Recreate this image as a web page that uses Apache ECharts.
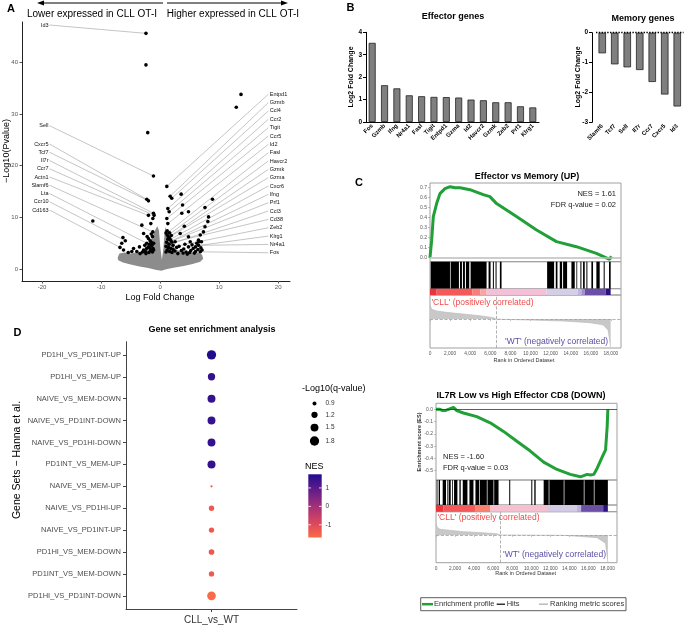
<!DOCTYPE html>
<html><head><meta charset="utf-8">
<script src="https://cdn.jsdelivr.net/npm/echarts@6/dist/echarts.min.js"></script>
<style>html,body{margin:0;padding:0;background:#fff}#c{width:685px;height:627px}</style>
</head><body><div id="c"></div>
<script>
// ================= DATA =================
// Panel A – volcano
const cloudX = [-7.2,-6.9,-6.0,-5.0,-4.0,-3.0,-2.4,-2.0,-1.6,-1.2,-0.8,-0.5,-0.2,0.05,0.3,0.55,0.75,0.9,1.1,1.5,2.0,2.6,3.5,4.5,5.5,6.5,7.1,7.3,6.8,5.5,4.0,2.5,1.2,0.2,-0.8,-2.0,-3.5,-5.0,-6.3,-7.1];
const cloudY = [2.2,3.0,3.2,3.0,3.2,3.4,3.8,4.6,5.6,6.6,7.6,8.3,7.5,4.0,1.8,4.0,7.0,8.2,7.2,6.0,4.8,3.8,3.4,3.1,3.2,3.2,2.8,2.0,1.4,1.0,0.6,0.3,0.0,-0.3,-0.1,0.2,0.5,0.9,1.3,1.7];
const sigLeft = [[-2.4,45.6],[-2.4,39.5],[-2.1,26.4],[-1.13,18.0],[-11.4,9.3],[-2.26,13.5],[-1.98,13.2],[-1.13,10.8],[-1.02,10.4],[-1.98,10.4],[-1.24,9.8],[-1.58,8.8],[-3.1,8.5],[-1.24,7.2],[-2.8,6.9],[-6.3,6.1],[-1.98,5.9],[-1.7,5.5],[-5.9,5.5],[-6.5,5.0],[-2.26,5.0],[-1.4,4.6],[-3.5,4.3],[-6.8,4.2],[-6.2,3.7],[-5.4,3.2],[-4.5,4.0],[-2.8,3.7],[-3.95,3.4],[-3.4,3.0],[-1.3,6.3],[-1.5,5.2],[-1.8,4.8],[-2.0,4.3],[-2.3,4.0],[-1.2,4.0],[-1.6,3.6],[-2.5,3.4],[-1.9,3.2],[-1.3,3.3],[-2.6,4.6],[-1.1,5.0],[-3.0,3.3],[-4.8,3.4],[-2.2,6.3],[-1.5,6.8],[-2.4,3.0],[-1.1,3.7],[-1.7,4.1]];
const sigRight = [[13.7,33.8],[12.9,31.3],[1.13,16.0],[1.7,14.1],[1.97,13.7],[3.56,14.5],[8.87,13.5],[3.8,12.4],[1.3,11.7],[1.53,11.1],[4.8,11.1],[3.67,10.8],[7.6,11.9],[8.2,10.1],[1.13,9.8],[8.08,9.2],[1.3,8.8],[7.6,8.2],[4.1,8.3],[7.34,7.2],[3.4,6.9],[4.8,6.25],[6.8,6.6],[6.5,5.6],[5.1,5.3],[2.54,5.3],[1.0,7.0],[1.2,6.6],[1.4,6.3],[1.6,6.0],[1.3,5.8],[1.8,5.6],[2.0,5.2],[1.1,5.2],[1.5,4.8],[2.2,4.6],[1.0,4.4],[1.4,4.2],[1.8,4.0],[2.2,3.8],[1.2,3.7],[1.6,3.4],[2.5,3.5],[1.0,3.3],[2.0,3.2],[1.2,7.4],[1.6,7.0],[1.9,6.5],[3.2,4.4],[3.6,3.6],[4.0,3.9],[4.4,3.3],[4.8,4.3],[5.2,3.6],[5.6,4.0],[6.0,3.4],[6.4,3.8],[6.8,3.35],[6.5,4.6],[6.2,5.0],[5.8,3.1],[4.6,2.9],[3.9,3.1],[6.9,4.1],[5.0,3.2],[3.0,3.0],[7.1,3.7],[5.4,4.7],[6.6,5.3],[7.0,5.3],[4.2,4.8],[2.8,4.2],[6.0,4.3]];
const leftGenes = ['Id3','Sell','Cxcr5','Tcf7','Il7r','Ccr7','Actn1','Slamf6','Lta','Ccr10','Cd163'];
const leftTargets = [[-2.4,45.6],[-1.13,18.0],[-2.26,13.5],[-1.98,13.2],[-1.13,10.8],[-1.02,10.4],[-1.98,10.4],[-1.24,7.2],[-2.26,5.0],[-5.9,5.5],[-6.8,4.2]];
const rightGenes = ['Entpd1','Gzmb','Ccl4','Ccr2','Tigit','Ccr5','Id2','Fasl','Havcr2','Gzmk','Gzma','Cxcr6','Ifng','Prf1','Ccl3','Cd38','Zeb2','Klrg1','Nr4a1','Fos'];
const rightTargets = [[1.13,16.0],[1.7,14.1],[1.97,13.7],[1.3,11.7],[1.53,11.1],[1.13,9.8],[1.3,8.8],[1.2,7.0],[1.4,6.6],[1.6,6.3],[1.3,6.0],[1.8,5.8],[2.0,5.5],[1.5,5.2],[2.2,5.0],[2.54,5.3],[3.4,4.6],[4.8,4.3],[6.5,4.6],[6.8,3.35]];
const volcanoXTicks = [-20,-10,0,10,20];
const volcanoYTicks = [0,10,20,30,40];

// Panel B – bar charts
const effectorGenes = ['Fos','Gzmb','Ifng','Nr4a1','Fasl','Tigit','Entpd1','Gzma','Id2','Havcr2','Gzmk','Zeb2','Prf1','Klrg1'];
const effectorLFC = [3.53,1.64,1.50,1.19,1.15,1.12,1.11,1.09,1.00,0.97,0.88,0.88,0.70,0.65];
const memoryGenes = ['Slamf6','Tcf7','Sell','Il7r','Ccr7','Cxcr5','Id3'];
const memoryLFC = [-0.69,-1.06,-1.16,-1.25,-1.65,-2.07,-2.47];

// Panel C – GSEA (UP)
const upRank = [0,165,330,660,990,1490,2000,2500,3000,3970,5300,5960,6620,8600,10600,12580,14560,16550,17870,18040];
const upES = [0,0.17,0.41,0.54,0.64,0.69,0.71,0.70,0.70,0.68,0.63,0.61,0.54,0.41,0.275,0.158,0.107,0.04,-0.02,0.01];
const upHitStart = [66,2052,2980,3277,3575,4038,5826,6256,6521,6951,11650,12512,12909,13240,14068,14564,14961,15226,15557,16054,16550,17278,17808];
const upHitEnd   = [1986,2880,3178,3475,3906,5627,6024,6355,6620,7117,12346,12678,13141,13637,14399,14630,15061,15392,15656,16219,16881,17378,17973];
const upBandStart = [0,660,4200,5000,5630,11590,14700,15060,15390,17480];
const upBandEnd   = [660,4200,5000,5630,11590,14700,15060,15390,17480,17970];
const upMetricRank = [0,165,660,1655,3310,4965,6290,6620,9930,13240,15890,17210,17710,17870,17970];
const upMetricVal  = [0.585,0.41,0.34,0.28,0.21,0.14,0.06,0,-0.04,-0.08,-0.15,-0.24,-0.45,-0.87,-1.17];
const upZeroCross = 6620;
// Panel C – GSEA (DOWN)
const downRank = [0,420,700,950,1300,1830,2180,2880,4280,5690,7090,8490,9900,11300,12700,14100,15160,15870,16210,16570,16920,17440,17800,17970,18040];
const downES = [0,0.0,-0.01,-0.01,0.0,0.015,-0.01,-0.03,-0.06,-0.11,-0.18,-0.26,-0.34,-0.43,-0.49,-0.53,-0.55,-0.53,-0.535,-0.53,-0.48,-0.39,-0.33,-0.14,0];
const downHitStart = [70,281,702,1193,1334,1685,1895,2457,2808,3510,4142,4598,5405,6107,7687,10004,10319,11302,11899,13478,15584,16637];
const downHitEnd   = [140,421,1053,1260,1544,1755,2246,2597,3299,3931,4528,5335,6037,6564,7792,10109,10460,11829,13408,15514,16567,18041];
const downBandStart = [0,770,4100,5690,11650,14810,15230,17550];
const downBandEnd   = [770,4100,5690,11650,14810,15230,17550,18040];
const downMetricRank = [0,140,421,2878,4633,6388,6740,9898,13408,16918,17796,17971,18041];
const downMetricVal  = [0.47,0.33,0.24,0.14,0.10,0.05,0,-0.01,-0.02,-0.12,-0.36,-0.94,-1.2];
const downZeroCross = 6740;
const rankTicks = [0,2000,4000,6000,8000,10000,12000,14000,16000,18000];
const upESTicks = [0,0.1,0.2,0.3,0.4,0.5,0.6,0.7];
const downESTicks = [0,-0.1,-0.2,-0.3,-0.4,-0.5];

// Panel D – dot plot
const geneSets = ['PD1HI_VS_PD1INT-UP','PD1HI_VS_MEM-UP','NAIVE_VS_MEM-DOWN','NAIVE_VS_PD1INT-DOWN','NAIVE_VS_PD1HI-DOWN','PD1INT_VS_MEM-UP','NAIVE_VS_MEM-UP','NAIVE_VS_PD1HI-UP','NAIVE_VS_PD1INT-UP','PD1HI_VS_MEM-DOWN','PD1INT_VS_MEM-DOWN','PD1HI_VS_PD1INT-DOWN'];
const nesValues = [1.74,1.5,1.5,1.5,1.5,1.5,-1.3,-1.3,-1.3,-1.3,-1.3,-1.69];
const negLog10Q = [1.8,1.38,1.5,1.5,1.5,1.52,0.76,1.06,1.06,1.1,1.06,1.66];
const qBreaks = [0.9,1.2,1.5,1.8];
const nesBreaks = [1,0,-1];

// ================= STYLE / LAYOUT =================
const F = '"Liberation Sans", Arial, Helvetica, sans-serif';
const upBandColors = ['#e8343a','#f4585a','#f77d7f','#f9a3a3','#f4c0d8','#d4cfe6','#bdb5dd','#9f8fcc','#6a4ea8','#2a1080'];
const downBandColors = ['#e8343a','#f4585a','#f8806e','#f6c0cf','#d3cbe5','#bbb1dc','#6c50a8','#2a1080'];
const nesStops = [[-1.69,[251,106,72]],[-1,[224,74,90]],[0,[163,48,122]],[1,[90,26,138]],[1.74,[34,12,142]]];
function nesColor(v){
  if (v <= nesStops[0][0]) return 'rgb('+nesStops[0][1].join(',')+')';
  for (let i=1;i<nesStops.length;i++){
    if (v <= nesStops[i][0]){
      const a=nesStops[i-1], b=nesStops[i], t=(v-a[0])/(b[0]-a[0]);
      const c=a[1].map((x,k)=>Math.round(x+(b[1][k]-x)*t));
      return 'rgb('+c.join(',')+')';
    }
  }
  return 'rgb('+nesStops[nesStops.length-1][1].join(',')+')';
}
function dotSize(q){ return Math.sqrt(Math.max(4.5, -54.5 + 78.3*q)); }
const GREEN = '#21a038';

const zip = (a,b)=>a.map((v,i)=>[v,b[i]]);
const comma = v => String(v).replace(/\B(?=(\d{3})+(?!\d))/g, ',');

function T(text, x, y, o){
  o = o || {};
  return {type:'text', x:x, y:y, rotation:o.rot||0, z:50, silent:true,
    style:{text:text, fill:o.color||'#000', font:(o.weight||'normal')+' '+(o.size||9)+'px '+F,
      textAlign:o.align||'center', textVerticalAlign:'middle', verticalAlign:'middle'}};
}
function L(x1,y1,x2,y2,color,w,dash){
  return {type:'line', z:50, silent:true, shape:{x1:x1,y1:y1,x2:x2,y2:y2}, style:{stroke:color,lineWidth:w,lineDash:dash||null}};
}

// label layout (pixels)
const leftLabelPxY = [25,125.7,144,152.25,160.5,168.75,177,185.25,193.5,201.75,210];
const rightLabelPxY = rightGenes.map((g,i)=>94.3 + i*8.34);

// ================= CHART =================
const chart = echarts.init(document.getElementById('c'), null, {renderer:'canvas'});

const gseaBorder = {show:true, borderColor:'#a0a0a0', borderWidth:1, backgroundColor:'transparent'};
const grids = [
  {left:22, top:22, width:268, height:259},            //0 volcano
  {left:366, top:32.3, width:173, height:89.7},        //1 effector
  {left:596, top:32.7, width:87.5, height:89.6},       //2 memory
  Object.assign({left:430, top:183, width:191, height:78.7}, gseaBorder),   //3
  Object.assign({left:430, top:261.7, width:191, height:27}, gseaBorder),   //4
  Object.assign({left:430, top:288.7, width:191, height:6.3}, gseaBorder),  //5
  Object.assign({left:430, top:295, width:191, height:53}, gseaBorder),     //6
  Object.assign({left:436, top:403.3, width:181, height:76.7}, gseaBorder), //7
  Object.assign({left:436, top:480, width:181, height:25}, gseaBorder),     //8
  Object.assign({left:436, top:505, width:181, height:6.7}, gseaBorder),    //9
  Object.assign({left:436, top:511.7, width:181, height:51}, gseaBorder),   //10
  {left:126, top:341.7, width:171, height:267.3}       //11 dot plot
];

const hiddenX = gi => ({type:'value', gridIndex:gi, min:0, max:19000, show:false});
const hiddenY = (gi,mn,mx) => ({type:'value', gridIndex:gi, min:mn, max:mx, show:false});
const rankX = gi => ({type:'value', gridIndex:gi, min:0, max:19000,
  axisLine:{show:false}, splitLine:{show:false},
  axisTick:{show:true, customValues:rankTicks, length:2, lineStyle:{color:'#888', width:0.5}},
  axisLabel:{customValues:rankTicks, fontSize:4.8, color:'#555', margin:3, formatter:v=>comma(v)}});
const esY = (gi,mn,mx,ticks) => ({type:'value', gridIndex:gi, min:mn, max:mx,
  axisLine:{show:false}, splitLine:{show:false},
  axisTick:{show:true, customValues:ticks, length:2, lineStyle:{color:'#888', width:0.5}},
  axisLabel:{customValues:ticks, fontSize:5, color:'#555', margin:3, formatter:v=>Number(v).toFixed(1)}});

const xAxis = [
  {type:'value', gridIndex:0, min:-23.4, max:22, splitLine:{show:false},
    axisLine:{show:true, onZero:false, lineStyle:{color:'#222', width:1}},
    axisTick:{show:true, customValues:volcanoXTicks, length:2.5, lineStyle:{color:'#555'}},
    axisLabel:{customValues:volcanoXTicks, fontSize:6, color:'#555', margin:3}},
  {type:'category', gridIndex:1, data:effectorGenes,
    axisLine:{show:true, onZero:false, lineStyle:{color:'#000', width:1}}, axisTick:{show:false},
    axisLabel:{interval:0, rotate:45, fontSize:6, fontWeight:'bold', color:'#000', margin:3}},
  {type:'category', gridIndex:2, data:memoryGenes, position:'bottom',
    axisLine:{show:false, onZero:false}, axisTick:{show:false},
    axisLabel:{interval:0, rotate:45, fontSize:6, fontWeight:'bold', color:'#000', margin:3}},
  hiddenX(3), hiddenX(4), hiddenX(5), rankX(6),
  hiddenX(7), hiddenX(8), hiddenX(9), rankX(10),
  {type:'category', gridIndex:11, data:['CLL_vs_WT'], position:'bottom',
    axisLine:{show:true, onZero:false, lineStyle:{color:'#444', width:1}},
    axisTick:{show:true, alignWithLabel:true, length:3, lineStyle:{color:'#444'}},
    axisLabel:{fontSize:10, color:'#333', margin:6}}
];
const yAxis = [
  {type:'value', gridIndex:0, min:-2.3, max:47.8, splitLine:{show:false},
    axisLine:{show:true, onZero:false, lineStyle:{color:'#222', width:1}},
    axisTick:{show:true, customValues:volcanoYTicks, length:2.5, lineStyle:{color:'#555'}},
    axisLabel:{customValues:volcanoYTicks, fontSize:6, color:'#555', margin:4}},
  {type:'value', gridIndex:1, min:0, max:4, interval:1, splitLine:{show:false},
    axisLine:{show:true, onZero:false, lineStyle:{color:'#000', width:1}},
    axisTick:{show:true, length:3, lineStyle:{color:'#000'}},
    axisLabel:{fontSize:6.5, fontWeight:'bold', color:'#000', margin:4}},
  {type:'value', gridIndex:2, min:-3, max:0, interval:1, offset:4, splitLine:{show:false},
    axisLine:{show:true, onZero:false, lineStyle:{color:'#000', width:1}},
    axisTick:{show:true, length:3, lineStyle:{color:'#000'}},
    axisLabel:{fontSize:6.5, fontWeight:'bold', color:'#000', margin:4}},
  esY(3,-0.044,0.747,upESTicks), hiddenY(4,0,1), hiddenY(5,0,1), hiddenY(6,-1.2,1),
  esY(7,-0.576,0.049,downESTicks), hiddenY(8,0,1), hiddenY(9,0,1), hiddenY(10,-1.2,1),
  {type:'value', gridIndex:11, min:-0.6, max:11.6, inverse:true, splitLine:{show:false},
    axisLine:{show:true, onZero:false, lineStyle:{color:'#444', width:1}},
    axisTick:{show:true, customValues:geneSets.map((g,i)=>i), length:3, lineStyle:{color:'#444'}},
    axisLabel:{customValues:geneSets.map((g,i)=>i), fontSize:7.5, color:'#4d4d4d', margin:5, formatter:v=>geneSets[v]}}
];

function rangeSeries(gi, starts, ends, colorFn){
  return {type:'custom', xAxisIndex:gi, yAxisIndex:gi, silent:true, z:3,
    data: starts.map((s,i)=>[s, ends[i]]),
    renderItem:(p, api)=>{
      const a = api.coord([api.value(0), 1]), b = api.coord([api.value(1), 0]);
      return {type:'rect', shape:{x:a[0], y:a[1], width:Math.max(b[0]-a[0], 0.8), height:b[1]-a[1]},
        style:{fill:colorFn(p.dataIndex)}};
    }};
}
function metricSeries(gi, rank, val, cross){
  return {type:'line', xAxisIndex:gi, yAxisIndex:gi, data:zip(rank,val), showSymbol:false, silent:true,
    lineStyle:{color:'#b8b8b8', width:0.6}, areaStyle:{color:'#c8c8c8', opacity:1},
    markLine:{silent:true, symbol:'none', label:{show:false}, animation:false,
      lineStyle:{type:'dashed', color:'#a0a0a0', width:0.8},
      data:[{yAxis:0},{xAxis:cross}]}};
}

const labelData = [];
leftTargets.forEach((p,i)=>labelData.push([p[0],p[1],0,i]));
rightTargets.forEach((p,i)=>labelData.push([p[0],p[1],1,i]));

const series = [
  {type:'custom', xAxisIndex:0, yAxisIndex:0, silent:true, z:1, data:[[0,0]],
    renderItem:(p, api)=>({type:'polygon', shape:{points: cloudX.map((x,i)=>api.coord([x, cloudY[i]]))}, style:{fill:'#8c8c8c'}})},
  {type:'custom', xAxisIndex:0, yAxisIndex:0, silent:true, z:2, data:labelData,
    renderItem:(p, api)=>{
      const pt = api.coord([api.value(0), api.value(1)]);
      const side = api.value(2), i = api.value(3);
      const ly = side ? rightLabelPxY[i] : leftLabelPxY[i];
      const lx = side ? 268.3 : 49.5;
      const name = side ? rightGenes[i] : leftGenes[i];
      return {type:'group', children:[
        {type:'line', shape:{x1:lx, y1:ly, x2:pt[0], y2:pt[1]}, style:{stroke:'#8a8a8a', lineWidth:0.5}},
        {type:'text', x: side ? lx+1.5 : lx-1, y: ly,
          style:{text:name, font:'5.5px '+F, fill:'#111', textAlign: side?'left':'right', textVerticalAlign:'middle', verticalAlign:'middle'}}
      ]};
    }},
  {type:'scatter', xAxisIndex:0, yAxisIndex:0, silent:true, z:3, symbolSize:3.6,
    itemStyle:{color:'#000', opacity:1}, data: sigLeft.concat(sigRight)},
  {type:'bar', xAxisIndex:1, yAxisIndex:1, data:effectorLFC, barWidth:7, silent:true,
    itemStyle:{color:'#7f7f7f', borderColor:'#222', borderWidth:0.8}},
  {type:'bar', xAxisIndex:2, yAxisIndex:2, data:memoryLFC, barWidth:7.5, silent:true,
    itemStyle:{color:'#7f7f7f', borderColor:'#222', borderWidth:0.8},
    markLine:{silent:true, symbol:'none', label:{show:false}, animation:false,
      lineStyle:{type:'dotted', color:'#000', width:1.4}, data:[{yAxis:0}]}},
  {type:'line', xAxisIndex:3, yAxisIndex:3, data:zip(upRank,upES), showSymbol:false, silent:true, z:4,
    lineStyle:{color:GREEN, width:3},
    markLine:{silent:true, symbol:'none', label:{show:false}, animation:false,
      lineStyle:{type:'solid', color:'#bdbdbd', width:1.5}, data:[{yAxis:0}]}},
  rangeSeries(4, upHitStart, upHitEnd, ()=>'#000'),
  rangeSeries(5, upBandStart, upBandEnd, i=>upBandColors[i]),
  metricSeries(6, upMetricRank, upMetricVal, upZeroCross),
  {type:'line', xAxisIndex:7, yAxisIndex:7, data:zip(downRank,downES), showSymbol:false, silent:true, z:4,
    lineStyle:{color:GREEN, width:3},
    markLine:{silent:true, symbol:'none', label:{show:false}, animation:false,
      lineStyle:{type:'solid', color:'#333', width:0.8}, data:[{yAxis:0}]}},
  rangeSeries(8, downHitStart, downHitEnd, ()=>'#000'),
  rangeSeries(9, downBandStart, downBandEnd, i=>downBandColors[i]),
  metricSeries(10, downMetricRank, downMetricVal, downZeroCross),
  {type:'scatter', xAxisIndex:11, yAxisIndex:11, silent:true, z:3,
    data: geneSets.map((g,i)=>[0, i, nesValues[i], negLog10Q[i]]),
    symbolSize: v=>dotSize(v[3]),
    itemStyle:{opacity:1, color:p=>nesColor(p.value[2])}}
];

// ---------- graphics ----------
const g = [];
// panel letters
g.push(T('A', 11, 9, {size:11, weight:'bold'}));
g.push(T('B', 350.5, 7.5, {size:11, weight:'bold'}));
g.push(T('C', 359, 183, {size:11, weight:'bold'}));
g.push(T('D', 17.5, 332.5, {size:11, weight:'bold'}));
// panel A header arrows
g.push(L(163,3,42,3,'#000',1));
g.push({type:'polygon', z:50, silent:true, shape:{points:[[37,3],[44,0.6],[44,5.4]]}, style:{fill:'#000'}});
g.push(L(167,3,283,3,'#000',1));
g.push({type:'polygon', z:50, silent:true, shape:{points:[[288,3],[281,0.6],[281,5.4]]}, style:{fill:'#000'}});
g.push(T('Lower expressed in CLL OT-I', 92, 14.5, {size:10}));
g.push(T('Higher expressed in CLL OT-I', 233, 14.5, {size:10}));
g.push(T('\u2212Log10(Pvalue)', 7, 151, {size:9, rot:Math.PI/2}));
g.push(T('Log Fold Change', 160, 298, {size:9}));
// panel B
g.push(T('Effector genes', 453, 17, {size:9, weight:'bold'}));
g.push(T('Memory genes', 643, 19, {size:9, weight:'bold'}));
g.push(T('Log2 Fold Change', 351, 77, {size:7, weight:'bold', rot:Math.PI/2}));
g.push(T('Log2 Fold Change', 578, 77, {size:7, weight:'bold', rot:Math.PI/2}));
// panel C top
g.push(T('Effector vs Memory (UP)', 527, 177, {size:9, weight:'bold'}));
g.push(T('NES = 1.61', 616, 194, {size:7.5, align:'right', color:'#222'}));
g.push(T('FDR q-value = 0.02', 616, 205, {size:7.5, align:'right', color:'#222'}));
g.push(T("'CLL' (positively correlated)", 431.5, 302.5, {size:8.5, align:'left', color:'#f24a4a'}));
g.push(T("'WT' (negatively correlated)", 608, 342, {size:8.5, align:'right', color:'#5a4fa5'}));
g.push(T('Rank in Ordered Dataset', 524, 360.7, {size:5.5, color:'#333'}));
// panel C bottom
g.push(T('IL7R Low vs High Effector CD8 (DOWN)', 521, 396, {size:9, weight:'bold'}));
g.push(T('NES = -1.60', 443, 457, {size:7.5, align:'left', color:'#222'}));
g.push(T('FDR q-value = 0.03', 443, 467.5, {size:7.5, align:'left', color:'#222'}));
g.push(T("'CLL' (positively correlated)", 437.5, 517.5, {size:8.5, align:'left', color:'#f24a4a'}));
g.push(T("'WT' (negatively correlated)", 606, 555, {size:8.5, align:'right', color:'#5a4fa5'}));
g.push(T('Rank in Ordered Dataset', 525.7, 573.3, {size:5.5, color:'#333'}));
g.push(T('Enrichment score (ES)', 419, 442, {size:5.5, weight:'bold', rot:Math.PI/2, color:'#333'}));
// GSEA legend
g.push({type:'rect', z:50, silent:true, shape:{x:420.7, y:597.7, width:205.3, height:13}, style:{fill:'none', stroke:'#333', lineWidth:0.8}});
g.push(L(422,604.2,433,604.2,GREEN,2.5));
g.push(T('Enrichment profile', 434, 604.2, {size:7.5, align:'left', color:'#333'}));
g.push(L(496.7,604.2,505,604.2,'#000',1.2));
g.push(T('Hits', 506.7, 604.2, {size:7.5, align:'left', color:'#333'}));
g.push(L(539,604.2,548,604.2,'#bbb',1.5));
g.push(T('Ranking metric scores', 550, 604.2, {size:7.5, align:'left', color:'#333'}));
// panel D
g.push(T('Gene set enrichment analysis', 212, 330, {size:9, weight:'bold'}));
g.push(T('Gene Sets \u2212 Hanna et al.', 16.7, 460, {size:10.5, rot:Math.PI/2}));
g.push(T('-Log10(q-value)', 302, 389, {size:9, align:'left'}));
const legY = [403.5,414.8,427.6,441];
qBreaks.forEach((q,i)=>{
  g.push({type:'circle', z:50, silent:true, shape:{cx:314.5, cy:legY[i], r:dotSize(q)/2}, style:{fill:'#000'}});
  g.push(T(q.toFixed(1), 325.5, legY[i], {size:6.5, align:'left', color:'#333'}));
});
g.push(T('NES', 305, 466.7, {size:9, align:'left'}));
const nesMin = -1.69, nesMax = 1.74, barTop = 474.3, barH = 63.2;
g.push({type:'rect', z:50, silent:true, shape:{x:308.3, y:barTop, width:13.4, height:barH},
  style:{fill:new echarts.graphic.LinearGradient(0,0,0,1,
    nesStops.slice().reverse().map(s=>({offset:(nesMax-s[0])/(nesMax-nesMin), color:'rgb('+s[1].join(',')+')'})))}});
nesBreaks.forEach(v=>{
  const y = barTop + (nesMax-v)/(nesMax-nesMin)*barH;
  g.push(L(308.3,y,311,y,'#fff',0.8));
  g.push(L(319,y,321.7,y,'#fff',0.8));
  g.push(T(String(v), 325.5, y, {size:6.5, align:'left', color:'#333'}));
});

chart.setOption({
  animation:false,
  backgroundColor:'#fff',
  textStyle:{fontFamily:F},
  grid:grids, xAxis:xAxis, yAxis:yAxis, series:series,
  graphic:{elements:g}
});
</script></body></html>
